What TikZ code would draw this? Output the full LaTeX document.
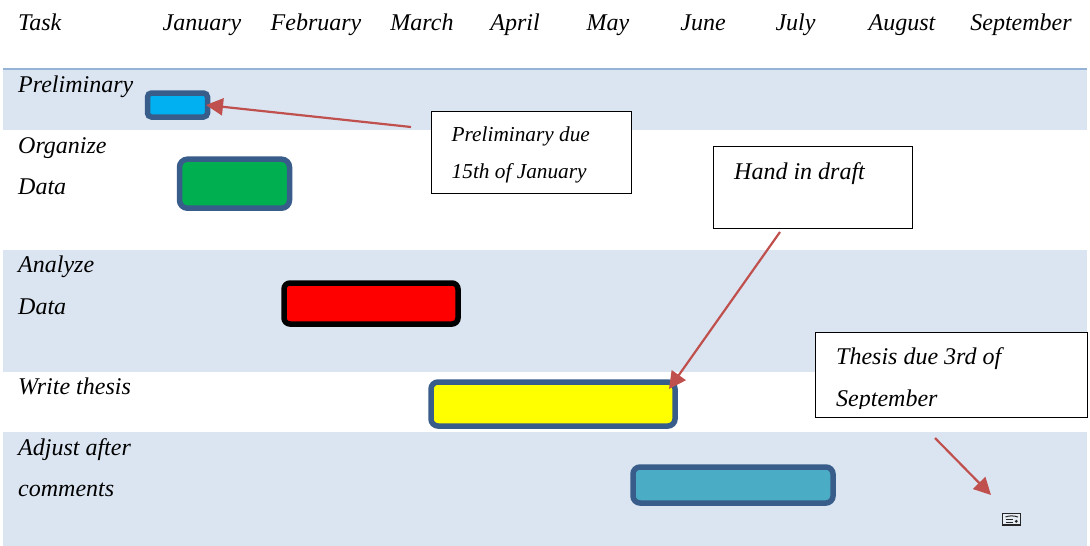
\documentclass[tikz,border=0pt]{standalone}
\usepackage{fontspec}
\setmainfont{Liberation Serif}
\usetikzlibrary{arrows.meta}
\definecolor{band}{HTML}{DBE5F1}
\definecolor{bandline}{HTML}{95B3D7}
\definecolor{barline}{HTML}{385D8A}
\definecolor{redarrow}{HTML}{C0504D}
\definecolor{barcyan}{HTML}{00B0F0}
\definecolor{bargreen}{HTML}{00B050}
\definecolor{barred}{HTML}{FF0000}
\definecolor{baryellow}{HTML}{FFFF00}
\definecolor{barteal}{HTML}{4BACC6}
\definecolor{textblack}{HTML}{000000}
\tikzset{
  lab/.style={anchor=base west,inner sep=0pt,font=\fontsize{24}{28}\selectfont\itshape,text=textblack},
  labs/.style={anchor=base west,inner sep=0pt,font=\fontsize{21.3}{25}\selectfont\itshape,text=textblack},
  mon/.style={anchor=base,inner sep=0pt,font=\fontsize{24}{28}\selectfont\itshape,text=textblack},
  barbox/.style={draw=barline,line width=5.5pt,rounded corners=6pt,inner sep=0pt},
  callout/.style={draw=black,fill=white,line width=1pt,inner sep=0pt,anchor=north west},
  pointer/.style={draw=redarrow,line width=2.2pt,-{Triangle[length=17pt,width=17pt]}}
}
\begin{document}
\begin{tikzpicture}[x=1pt,y=1pt]
\useasboundingbox (0,0) rectangle (1090,-546);
\fill[white] (0,0) rectangle (1090,-546);
% bands
\fill[band] (3,-69) rectangle (1087,-130);
\fill[band] (3,-250) rectangle (1087,-372);
\fill[band] (3,-432) rectangle (1087,-546);
\draw[bandline,line width=1.5pt] (3,-69) -- (1087,-69);
% header
\node[lab] (task) at (18,-30.8) {Task};
\node[mon] (jan) at (202,-30.8) {January};
\node[mon] (feb) at (316,-30.8) {February};
\node[mon] (mar) at (422,-30.8) {March};
\node[mon] (apr) at (515,-30.8) {April};
\node[mon] (may) at (608,-30.8) {May};
\node[mon] (jun) at (703,-30.8) {June};
\node[mon] (jul) at (795.5,-30.8) {July};
\node[mon] (aug) at (902,-30.8) {August};
\node[mon] (sep) at (1021,-30.8) {September};
% row labels
\node[lab] (t1) at (18,-92.5) {Preliminary};
\node[lab] (t2) at (18,-153.5) {Organize};
\node[lab] (t2b) at (18,-194.5) {Data};
\node[lab] (t3) at (18,-272.5) {Analyze};
\node[lab] (t3b) at (18,-314.5) {Data};
\node[lab] (t4) at (18,-394.5) {Write thesis};
\node[lab] (t5) at (18,-455.5) {Adjust after};
\node[lab] (t5b) at (18,-496.5) {comments};
% bars
\node[barbox,fill=barcyan,minimum width=60pt,minimum height=24pt,rounded corners=4pt] (b1) at (177.5,-105) {};
\node[barbox,fill=bargreen,minimum width=110pt,minimum height=49pt,rounded corners=8pt] (b2) at (234.5,-183.7) {};
\node[barbox,draw=black,fill=barred,minimum width=174pt,minimum height=41pt,rounded corners=6pt] (b3) at (371,-303.5) {};
\node[barbox,fill=baryellow,minimum width=244pt,minimum height=44pt,rounded corners=7pt] (b4) at (553,-404) {};
\node[barbox,fill=barteal,minimum width=200pt,minimum height=36pt,rounded corners=7pt] (b5) at (733,-485) {};
% callouts
\node[callout,minimum width=200pt,minimum height=82pt] (c1) at (431,-111) {};
\node[labs] (c1a) at (451.5,-141.5) {Preliminary due};
\node[labs] (c1b) at (451.5,-178.5) {15th of January};
\node[callout,minimum width=199pt,minimum height=82pt] (c2) at (713,-146) {};
\node[lab] (c2a) at (734,-179.5) {Hand in draft};
\node[callout,minimum width=272pt,minimum height=85.5pt] (c3) at (815,-331.5) {};
\node[lab] (c3a) at (836,-364.5) {Thesis due 3rd of};
\begin{scope}
\clip (816,-380) rectangle (1087,-408);
\node[lab] (c3b) at (836,-406.5) {September};
\end{scope}
% free ends
\coordinate (p1) at (411,-127);
\coordinate (h1) at (206,-105);
\coordinate (p2) at (780,-232);
\coordinate (h2) at (669,-389);
\coordinate (p3) at (935,-438);
\coordinate (h3) at (991,-495);
\draw[pointer] (p1) -- (h1);
\draw[pointer] (p2) -- (h2);
\draw[pointer] (p3) -- (h3);
% small icon
\draw[black!85,line width=1.2pt,fill=band!70!white] (1002.8,-513.5) rectangle (1020.3,-525);
\draw[black!85,line width=1pt] (1005.5,-517) .. controls (1009,-515.5) and (1014,-515.5) .. (1018,-517);
\draw[black!85,line width=1pt] (1005.5,-519.7) -- (1013,-519.7);
\draw[black!85,line width=1pt] (1005.5,-522.3) -- (1013,-522.3);
\fill[black!85] (1016.3,-521.3) circle (1.6pt);
\end{tikzpicture}
\end{document}
